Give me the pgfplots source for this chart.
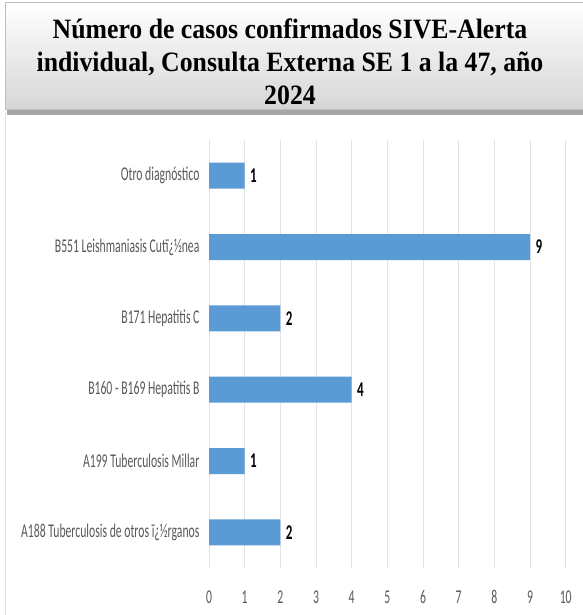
\documentclass[border=0pt]{standalone}
\usepackage{pgfplots}
\pgfplotsset{compat=1.18}
\usepackage{fontspec}
\setmainfont{Carlito}
\newfontfamily\condfont[FakeStretch=0.6]{Carlito}
\newfontfamily\valfont[FakeStretch=0.62]{Carlito}
\newfontfamily\titlefont[FakeStretch=0.92]{Liberation Serif}
\definecolor{barblue}{HTML}{5B9BD5}
\definecolor{gridc}{HTML}{E3E3E3}
\definecolor{tickc}{HTML}{595959}
\begin{document}
\begin{tikzpicture}
\useasboundingbox (0pt,0pt) rectangle (582pt,615pt);
\fill[white] (0pt,0pt) rectangle (582pt,615pt);
\draw[gridc, line width=1pt] (5pt,0pt) -- (5pt,503pt);
\fill[black!35] (7pt,500pt) rectangle (590pt,507pt);
\shade[top color=white, bottom color=black!16] (5pt,506pt) rectangle (590pt,613pt);
\draw[black!25, line width=0.8pt] (590pt,613pt) -- (5pt,613pt) -- (5pt,506pt) -- (590pt,506pt);
\node[font=\titlefont\bfseries\fontsize{28}{33}\selectfont, align=center] at (290pt,553pt)
 {Número de casos confirmados SIVE-Alerta\\individual, Consulta Externa SE 1 a la 47, año\\2024};
\begin{axis}[
  at={(209pt,47pt)}, anchor=south west, scale only axis,
  width=356.7pt, height=428pt,
  xmin=0, xmax=10, ymin=-0.5, ymax=5.5, y dir=reverse,
  xbar, bar width=26pt,
  xtick={0,...,10}, ytick={0,...,5},
  yticklabels={Otro diagnóstico, B551 Leishmaniasis Cutï¿½nea, B171 Hepatitis C, B160 - B169 Hepatitis B, A199 Tuberculosis Millar, A188 Tuberculosis de otros ï¿½rganos},
  xmajorgrids, grid style={gridc, line width=1pt},
  axis line style={draw=none}, major tick length=0pt,
  /pgf/number format/assume math mode=true,
  tick label style={font=\condfont\fontsize{19.5}{22}\selectfont, text=tickc},
  xticklabel style={yshift=-19pt},
  yticklabel style={xshift=-6pt},
  nodes near coords,
  every node near coord/.append style={font=\valfont\bfseries\fontsize{21}{24}\selectfont, text=black, anchor=west, xshift=2pt},
]
\addplot[fill=barblue, draw=none] coordinates {(1,0) (9,1) (2,2) (4,3) (1,4) (2,5)};
\end{axis}
\end{tikzpicture}
\end{document}
